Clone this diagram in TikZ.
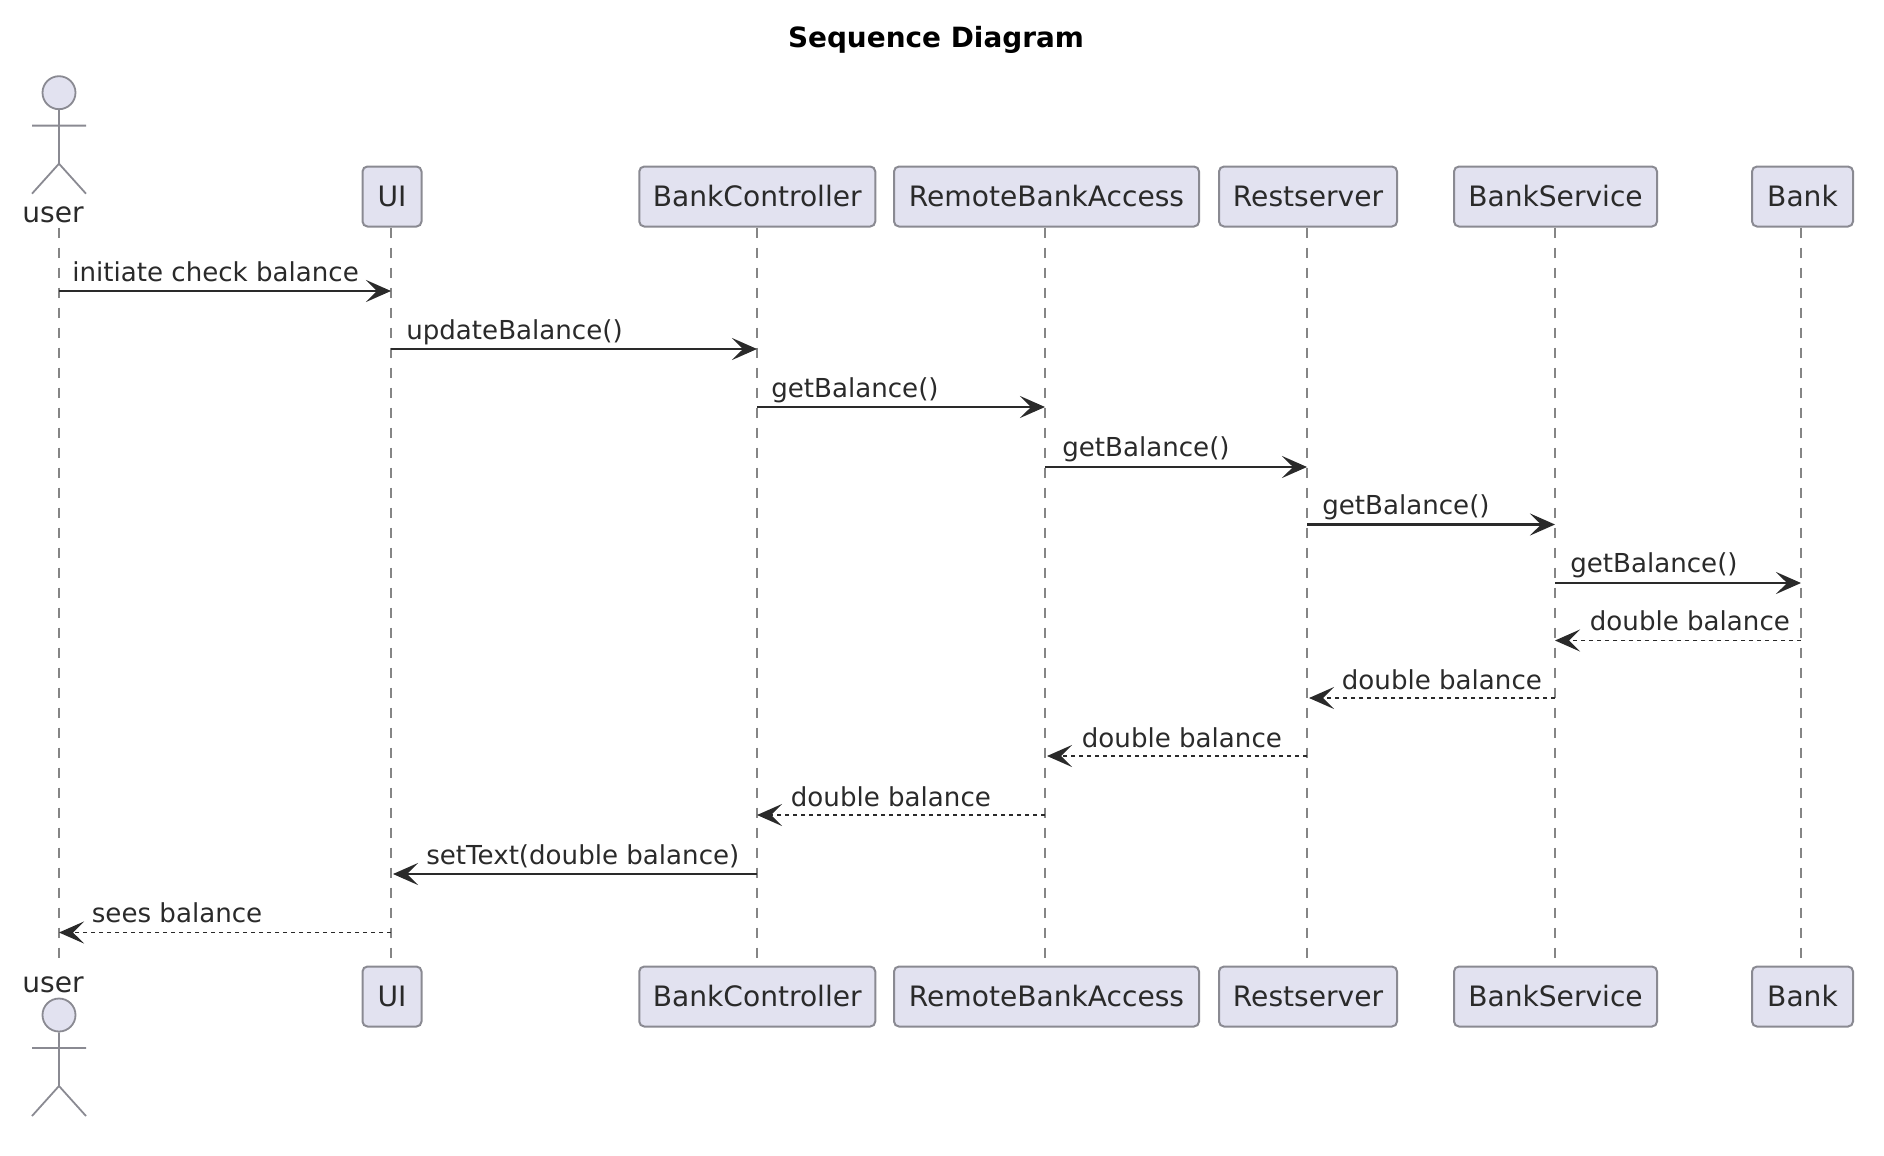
\documentclass[tikz,border=0pt]{standalone}
\usepackage{fontspec}
\setmainfont{DejaVu Sans}
\usetikzlibrary{arrows.meta, positioning}

\definecolor{boxfill}{HTML}{E2E2F0}
\definecolor{boxline}{HTML}{8A8A92}
\definecolor{lifecolor}{HTML}{858585}
\definecolor{inkcolor}{HTML}{2A2A2A}

\tikzset{
    participant/.style={rectangle, rounded corners=5pt, draw=boxline, fill=boxfill, line width=2pt, minimum height=60pt, inner sep=0pt, text=inkcolor, font=\fontsize{28.1}{28}\selectfont},
    actorhead/.style={circle, draw=boxline, fill=boxfill, line width=1.8pt, minimum size=33pt, inner sep=0pt},
    actorline/.style={draw=boxline, line width=1.8pt},
    actorname/.style={anchor=base, inner sep=0pt, text=inkcolor, font=\fontsize{28.1}{28}\selectfont},
    lifeline/.style={draw=lifecolor, line width=1.8pt, dash pattern=on 10pt off 10pt},
    call/.style={->, draw=inkcolor, line width=2.6pt},
    reply/.style={->, draw=inkcolor, line width=1.8pt, dash pattern=on 4pt off 4pt},
    msgright/.style={pos=0, anchor=base west, xshift=14pt, yshift=9.5pt, inner sep=0pt, text=inkcolor, font=\fontsize{26.1}{26}\selectfont},
    msgleft/.style={pos=1, anchor=base west, xshift=34pt, yshift=9.5pt, inner sep=0pt, text=inkcolor, font=\fontsize{26.1}{26}\selectfont},
}

\begin{document}
\begin{tikzpicture}[x=1pt, y=-1pt, >={Stealth[length=25pt, width=22pt, inset=11pt]}]
\useasboundingbox (0,0) rectangle (1884,1156);

% Title
\node[inner sep=0pt, text=black, font=\fontsize{27.9}{28}\selectfont\bfseries] (title) at (936,40) {Sequence Diagram};

% Lifeline positions
\coordinate (xUser) at (59,0);
\coordinate (xUI) at (391,0);
\coordinate (xController) at (757,0);
\coordinate (xRemote) at (1045,0);
\coordinate (xRest) at (1307,0);
\coordinate (xService) at (1555,0);
\coordinate (xBank) at (1801,0);

% Top participants
\node[actorhead] (userHeadTop) at (59,92.7) {};
\node[actorname] (userTop) at (53,222.5) {user};
\node[participant, minimum width=59pt] (uiTop) at (392,196.5) {UI};
\node[participant, minimum width=236pt] (controllerTop) at (757.25,196.5) {BankController};
\node[participant, minimum width=305pt] (remoteTop) at (1046.5,196.5) {RemoteBankAccess};
\node[participant, minimum width=178pt] (restTop) at (1308,196.5) {Restserver};
\node[participant, minimum width=203pt] (serviceTop) at (1555.5,196.5) {BankService};
\node[participant, minimum width=101pt] (bankTop) at (1802.5,196.5) {Bank};

% Bottom participants
\node[actorhead] (userHeadBot) at (59,1015) {};
\node[actorname] (userBot) at (53,992.5) {user};
\node[participant, minimum width=59pt] (uiBot) at (392,996.5) {UI};
\node[participant, minimum width=236pt] (controllerBot) at (757.25,996.5) {BankController};
\node[participant, minimum width=305pt] (remoteBot) at (1046.5,996.5) {RemoteBankAccess};
\node[participant, minimum width=178pt] (restBot) at (1308,996.5) {Restserver};
\node[participant, minimum width=203pt] (serviceBot) at (1555.5,996.5) {BankService};
\node[participant, minimum width=101pt] (bankBot) at (1802.5,996.5) {Bank};

% Actor bodies
\draw[actorline] (userHeadTop.south) -- ++(0,53.6) -- ++(-27,30) ++(27,-30) -- ++(27,30) ++(-54,-68.1) -- ++(54,0);
\draw[actorline] (userHeadBot.south) -- ++(0,53.6) -- ++(-27,30) ++(27,-30) -- ++(27,30) ++(-54,-68.1) -- ++(54,0);

% Lifelines
\draw[lifeline] (uiTop.south -| xUser) -- ([yshift=7pt]uiBot.north -| xUser);
\draw[lifeline] (uiTop.south -| xUI) -- ([yshift=7pt]uiBot.north -| xUI);
\draw[lifeline] (controllerTop.south -| xController) -- ([yshift=7pt]controllerBot.north -| xController);
\draw[lifeline] (remoteTop.south -| xRemote) -- ([yshift=7pt]remoteBot.north -| xRemote);
\draw[lifeline] (restTop.south -| xRest) -- ([yshift=7pt]restBot.north -| xRest);
\draw[lifeline] (serviceTop.south -| xService) -- ([yshift=7pt]serviceBot.north -| xService);
\draw[lifeline] (bankTop.south -| xBank) -- ([yshift=7pt]bankBot.north -| xBank);

% Message rows
\coordinate (row1) at (0,291);
\coordinate (row2) at (0,349);
\coordinate (row3) at (0,407);
\coordinate (row4) at (0,467);
\coordinate (row5) at (0,524.5);
\coordinate (row6) at (0,583);
\coordinate (row7) at (0,640.5);
\coordinate (row8) at (0,698);
\coordinate (row9) at (0,756);
\coordinate (row10) at (0,815);
\coordinate (row11) at (0,874);
\coordinate (row12) at (0,932.5);

% Calls going right
\draw[call] (row1 -| xUser) -- (row1 -| xUI) node[msgright, xshift=-2pt] (msg1) {initiate check balance};
\draw[call] (row2 -| xUI) -- (row2 -| xController) node[msgright] (msg2) {updateBalance()};
\draw[call] (row3 -| xController) -- (row3 -| xRemote) node[msgright, xshift=-1pt] (msg3) {getBalance()};
\draw[call] (row4 -| xRemote) -- (row4 -| xRest) node[msgright, xshift=2pt, yshift=1pt] (msg4) {getBalance()};
\draw[call] (row5 -| xRest) -- (row5 -| xService) node[msgright, yshift=1pt] (msg5) {getBalance()};
\draw[call] (row6 -| xService) -- (row6 -| xBank) node[msgright, yshift=1pt] (msg6) {getBalance()};

% Replies going left
\draw[reply] (row7 -| xBank) -- (row7 -| xService) node[msgleft, yshift=1pt] (msg7) {double balance};
\draw[reply, shorten >=2pt] (row8 -| xService) -- (row8 -| xRest) node[msgleft, yshift=-1pt] (msg8) {double balance};
\draw[reply, shorten >=2pt] (row9 -| xRest) -- (row9 -| xRemote) node[msgleft, xshift=2pt, yshift=-1pt] (msg9) {double balance};
\draw[reply] (row10 -| xRemote) -- (row10 -| xController) node[msgleft, xshift=-1pt, yshift=-1pt] (msg10) {double balance};
\draw[call, shorten >=2pt] (row11 -| xController) -- (row11 -| xUI) node[msgleft] (msg11) {setText(double balance)};
\draw[reply] (row12 -| xUI) -- (row12 -| xUser) node[msgleft, xshift=-2pt, yshift=1pt] (msg12) {sees balance};

\end{tikzpicture}
\end{document}
